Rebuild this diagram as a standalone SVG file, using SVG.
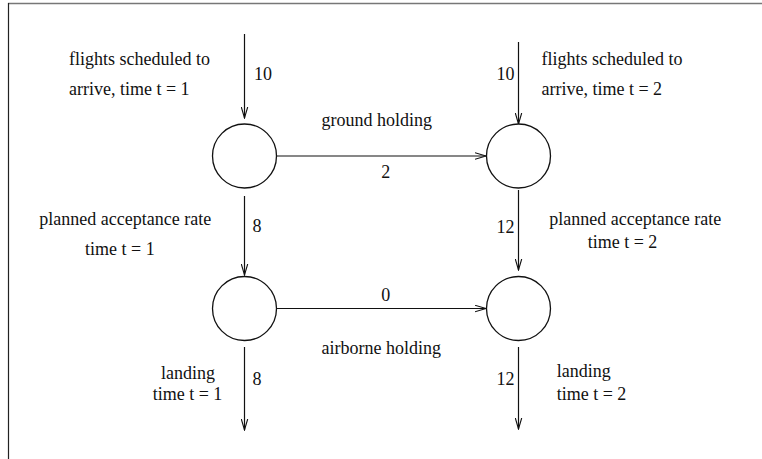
<svg xmlns="http://www.w3.org/2000/svg" width="762" height="459" viewBox="0 0 762 459">
<style>
text{font-family:"Liberation Serif","Times New Roman",serif;font-size:18px;fill:#111}
.n{fill:#fff;stroke:#111;stroke-width:1.3}
.e{stroke:#111;stroke-width:1.2;fill:none}
</style>
<defs>
<marker id="a" markerWidth="12" markerHeight="8" refX="11" refY="4" orient="auto" markerUnits="userSpaceOnUse">
<path d="M0,0.8 L11,4 L0,7.2" fill="none" stroke="#111" stroke-width="1.1"/>
</marker>
</defs>
<rect width="762" height="459" fill="#fff"/>
<line x1="8" y1="3.5" x2="762" y2="3.5" stroke="#777" stroke-width="1.6"/>
<line x1="8.5" y1="3" x2="8.5" y2="459" stroke="#222" stroke-width="1.2"/>
<g id="connectors">
<line class="e" x1="244.5" y1="34" x2="244.5" y2="118" marker-end="url(#a)"/>
<line class="e" x1="518.5" y1="42" x2="518.5" y2="124" marker-end="url(#a)"/>
<line class="e" x1="276" y1="156" x2="486" y2="156" marker-end="url(#a)"/>
<line class="e" x1="244.5" y1="196" x2="244.5" y2="275" marker-end="url(#a)"/>
<line class="e" x1="518.5" y1="190" x2="518.5" y2="270" marker-end="url(#a)"/>
<line class="e" x1="276" y1="308.5" x2="486" y2="308.5" marker-end="url(#a)"/>
<line class="e" x1="244.5" y1="347" x2="244.5" y2="430" marker-end="url(#a)"/>
<line class="e" x1="518.5" y1="347" x2="518.5" y2="429" marker-end="url(#a)"/>
</g>
<g id="n1"><circle class="n" cx="244.5" cy="156" r="32"/></g>
<g id="n2"><circle class="n" cx="518.5" cy="156" r="32"/></g>
<g id="n3"><circle class="n" cx="244.5" cy="308.5" r="32"/></g>
<g id="n4"><circle class="n" cx="518.5" cy="308.5" r="32"/></g>
<g id="labels">
<text x="69" y="65">flights scheduled to</text>
<text x="69" y="95">arrive, time t = 1</text>
<text x="254" y="80">10</text>
<text x="496.5" y="80">10</text>
<text x="541.5" y="65">flights scheduled to</text>
<text x="541.5" y="95">arrive, time t = 2</text>
<text x="376.7" y="126" text-anchor="middle">ground holding</text>
<text x="385.7" y="178" text-anchor="middle">2</text>
<text x="39.3" y="225">planned acceptance rate</text>
<text x="85" y="255">time t = 1</text>
<text x="252.5" y="232">8</text>
<text x="496.5" y="233">12</text>
<text x="549.3" y="225">planned acceptance rate</text>
<text x="587.7" y="247.5">time t = 2</text>
<text x="385.7" y="301" text-anchor="middle">0</text>
<text x="381.3" y="354" text-anchor="middle">airborne holding</text>
<text x="161" y="378.5">landing</text>
<text x="152.7" y="400">time t = 1</text>
<text x="252.5" y="385">8</text>
<text x="496.5" y="385">12</text>
<text x="556.7" y="377">landing</text>
<text x="556.7" y="399.5">time t = 2</text>
</g>
</svg>
